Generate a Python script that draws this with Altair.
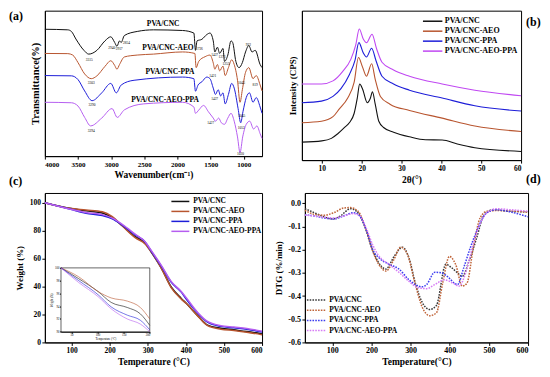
import altair as alt
import pandas as pd

FONT = "Liberation Serif"
NAMES = ["PVA/CNC", "PVA/CNC-AEO", "PVA/CNC-PPA", "PVA/CNC-AEO-PPA"]
LINE_COLORS = ["#111111", "#b8552f", "#1e1ed8", "#b65ef0"]
DOT_COLORS = ["#3a3a3a", "#c0653a", "#3d3df0", "#d77df5"]

# ---------------- (a) FTIR ----------------
ftir_cnc_wn = [4000, 3654, 3600, 3532, 3411, 3338, 3215, 3094, 3006, 2947, 2913, 2874, 2850, 2801, 2607, 2363,
               1924, 1753, 1729, 1705, 1632, 1558, 1510, 1461, 1437, 1398, 1364, 1314, 1291, 1241, 1193, 1168,
               1120, 1072, 1022, 974, 925, 876, 828, 754, 725]
ftir_cnc_t = [137.3, 136.7, 135, 127, 115, 111, 115, 125, 129.3, 123.3, 119.3, 125, 123.3, 130.7, 135, 136.7,
              136, 133.3, 115, 125, 126.7, 131.7, 133.3, 125, 113.3, 118.3, 111.7, 117, 103.3, 110, 125, 123.3,
              103.3, 96.7, 102, 113.3, 120, 113.3, 115, 100, 96.7]
ftir_aeo_wn = [4000, 3654, 3580, 3500, 3400, 3300, 3215, 3094, 3006, 2947, 2913, 2874, 2801, 2607, 2363,
               1924, 1738, 1719, 1680, 1583, 1510, 1461, 1437, 1398, 1364, 1314, 1281, 1232, 1183, 1145,
               1095, 1057, 1022, 974, 925, 861, 813, 754, 725]
ftir_aeo_t = [111.7, 111.5, 110, 102, 90, 85, 88, 98, 104, 99, 95, 100, 108, 110, 111,
              113.3, 111.7, 96.7, 103.3, 108.3, 110, 101.7, 95, 100, 93.3, 98.3, 88.3, 96.7, 105, 100,
              83.3, 60, 73.3, 91.7, 96.7, 85, 88.3, 78.3, 72]
ftir_ppa_wn = [4000, 3600, 3500, 3400, 3288, 3142, 3006, 2923, 2849, 2655, 1924, 1753, 1729, 1690, 1632, 1558,
               1510, 1461, 1427, 1387, 1349, 1314, 1281, 1232, 1183, 1145, 1086, 1047, 1013, 963, 915, 861,
               813, 754, 725]
ftir_ppa_t = [88.3, 88, 84, 72, 61.7, 70, 80, 70, 78.3, 83.3, 86.7, 85, 71.7, 78.3, 81.7, 86.7,
              85, 75, 68.3, 73.3, 66.7, 70, 58.3, 68.3, 80, 75, 53.3, 38.3, 50, 65, 70, 60,
              65, 55, 48.3]
ftir_both_wn = [4000, 3600, 3500, 3400, 3310, 3142, 2987, 2908, 2801, 2509, 1924, 1753, 1729, 1680, 1607, 1534,
                1461, 1427, 1379, 1339, 1291, 1241, 1193, 1145, 1095, 1057, 1017, 963, 911, 852, 803, 754, 725]
ftir_both_t = [60, 59.5, 56, 44, 35, 43.3, 53.3, 44, 52, 58.3, 60, 55, 48.3, 51.7, 56.7, 50,
               43.3, 40, 43.3, 38.3, 36.7, 43.3, 48.3, 40, 23.3, 6.7, 23.3, 36.7, 40, 31.7, 35, 26.7, 21.7]
ftir_label_wn = [2216, 2143, 2114, 2187]
ftir_label_t = [143.3, 117, 92, 62]
peak_text = ["3315", "2940", "2917", "2854", "1726", "1427", "1373", "1253", "922",
             "3303", "1421", "1045", "819",
             "3290", "1427", "1045",
             "3294", "1427", "1052", "1020"]
peak_wn = [3330, 2990, 2880, 2770, 1670, 1440, 1330, 1270, 930,
           3300, 1470, 1035, 828,
           3290, 1440, 1030,
           3300, 1500, 1040, 1050]
peak_t = [105, 117, 116, 123, 116, 110, 108, 101, 121,
          80, 88, 80, 78,
          57, 64, 46,
          30, 38, 33, 5]

# ---------------- (b) XRD ----------------
xrd_cnc_x = [5, 10, 12.4, 14, 15.7, 16.9, 18.1, 18.9, 19.5, 20.2, 21.4, 22.2, 22.7, 23.4, 24.3, 25.5, 28, 32, 36, 40.2, 44, 48.4, 60]
xrd_cnc_y = [26, 27.3, 30, 35, 41.7, 46.7, 56.7, 73.3, 88.3, 83.3, 68.3, 73.3, 80, 66.7, 48.3, 41.7, 36.7, 31.7, 28.5, 28.3, 24, 20, 16]
xrd_aeo_x = [5, 9.9, 12.8, 14.4, 16.5, 18.1, 19.2, 20.2, 21.2, 22.5, 23.4, 24.7, 27.1, 32, 40.2, 48.4, 60]
xrd_aeo_y = [46.7, 48.3, 53.3, 61.7, 73.3, 90, 116.7, 106.7, 96.7, 110, 93.3, 75, 66.7, 60, 51.7, 43.3, 37.3]
xrd_ppa_x = [5, 9.9, 12.8, 14.8, 16.9, 18.3, 19.3, 20.4, 21.2, 22.5, 23.6, 25.1, 28, 32, 40.2, 48.4, 60]
xrd_ppa_y = [68.3, 70, 75, 83.3, 98.3, 113.3, 132.7, 121.7, 117.3, 126.7, 113.3, 96.7, 88.3, 81.7, 73.3, 65, 59.3]
xrd_both_x = [5, 9.9, 12.8, 15.2, 17.3, 18.5, 19.4, 20.4, 21.2, 22.6, 23.7, 25.1, 28, 32, 40.2, 48.4, 60]
xrd_both_y = [88.3, 88.3, 91.7, 101.7, 115, 130, 147.3, 136.7, 132.7, 141.7, 126.7, 111.7, 103.3, 96.7, 88.3, 81.7, 75.7]

# ---------------- (c) TGA ----------------
tga_T = [30, 95, 138, 181, 207, 233, 267, 293, 310, 336, 362, 388, 401, 431, 457, 492, 526, 560, 600]
tga_cnc = [100, 96, 94.2, 92.7, 89.3, 83.6, 75.7, 71.2, 64.4, 53.1, 39.5, 31.5, 28, 19.2, 12.4, 10.2, 9, 7.8, 6.1]
tga_aeo = [100, 96, 94.8, 93.5, 90, 83.5, 75, 70.5, 64.5, 53, 39, 31, 28, 19, 12, 9.5, 8.5, 7.3, 5.5]
tga_ppa = [100, 95.5, 92.5, 90.8, 88.5, 84, 77, 72, 65, 54.5, 43, 36, 31, 21, 14.5, 11.5, 10.5, 9.5, 7.5]
tga_both = [100, 95.5, 93, 91.5, 89, 84.5, 77.5, 72, 65.5, 55, 43.5, 36.5, 32, 21.5, 15, 12, 11, 10, 8]
inset_T = [30, 64, 101, 126, 157, 182, 200]
inset_cnc = [100, 98.3, 96.3, 94.6, 93.8, 92.8, 91]
inset_aeo = [100, 98.6, 96.3, 95.3, 94.8, 93.8, 92]
inset_ppa = [100, 98, 95.8, 93.9, 92.6, 91.8, 90.3]
inset_both = [100, 97.7, 95.5, 93.6, 92, 91.2, 90]

# ---------------- (d) DTG ----------------
dtg_cnc_T = [30, 54, 79, 100, 121, 146, 162, 183, 200, 216, 237, 258, 279, 296, 312, 329, 349, 366, 390, 403, 420, 432, 449, 470, 486, 511, 553, 600]
dtg_cnc_v = [-0.023, -0.040, -0.058, -0.067, -0.054, -0.023, -0.034, -0.10, -0.189, -0.249, -0.283, -0.229, -0.189, -0.236, -0.344, -0.425, -0.458, -0.44, -0.263, -0.275, -0.30, -0.315, -0.25, -0.142, -0.054, -0.027, -0.034, -0.036]
dtg_aeo_T = [30, 54, 79, 104, 129, 146, 166, 187, 204, 224, 237, 258, 274, 291, 312, 329, 349, 366, 382, 399, 415, 432, 444, 461, 478, 495, 520, 600]
dtg_aeo_v = [-0.03, -0.047, -0.051, -0.04, -0.02, -0.018, -0.034, -0.115, -0.209, -0.276, -0.292, -0.24, -0.189, -0.216, -0.35, -0.445, -0.485, -0.472, -0.344, -0.229, -0.263, -0.357, -0.344, -0.182, -0.061, -0.034, -0.031, -0.038]
dtg_ppa_T = [30, 54, 79, 104, 129, 154, 170, 187, 204, 220, 245, 270, 296, 329, 341, 362, 379, 395, 412, 420, 436, 453, 470, 495, 520, 553, 600]
dtg_ppa_v = [-0.05, -0.054, -0.063, -0.067, -0.054, -0.040, -0.054, -0.115, -0.202, -0.236, -0.263, -0.283, -0.33, -0.36, -0.35, -0.297, -0.30, -0.317, -0.344, -0.35, -0.276, -0.189, -0.115, -0.04, -0.027, -0.036, -0.058]
dtg_both_T = [30, 54, 79, 104, 129, 154, 170, 187, 204, 220, 245, 270, 296, 320, 341, 362, 387, 408, 424, 440, 457, 474, 495, 520, 553, 600]
dtg_both_v = [-0.05, -0.054, -0.06, -0.063, -0.054, -0.044, -0.054, -0.108, -0.182, -0.229, -0.263, -0.297, -0.337, -0.364, -0.368, -0.35, -0.33, -0.344, -0.357, -0.303, -0.196, -0.101, -0.04, -0.023, -0.027, -0.034]


def line(xs, ys, color, xenc, yenc, width=1.0, dash=None):
    df = pd.DataFrame({"x": xs, "y": ys})
    kw = dict(color=color, strokeWidth=width, interpolate="monotone")
    if dash:
        kw["strokeDash"] = dash
    return alt.Chart(df).mark_line(**kw).encode(x=xenc, y=yenc)


def label(text, x, y, size=12, align="left", baseline="top"):
    return alt.Chart(pd.DataFrame({"t": [text]})).mark_text(
        font=FONT, fontWeight="bold", fontSize=size, align=align, baseline=baseline, color="black"
    ).encode(x=alt.value(x), y=alt.value(y), text="t:N")


def legend(colors, x1, x2, xt, y0, dy, size, width, dash=None):
    layers = []
    for i, (n, c) in enumerate(zip(NAMES, colors)):
        y = y0 + i * dy
        kw = dict(color=c, strokeWidth=width)
        if dash:
            kw["strokeDash"] = dash
        layers.append(alt.Chart(pd.DataFrame({"n": [n]})).mark_rule(**kw).encode(
            x=alt.value(x1), x2=alt.value(x2), y=alt.value(y)))
        layers.append(label(n, xt, y, size=size, baseline="middle"))
    return layers


def xaxis(title, values, size=7.5, pad=2):
    return alt.Axis(title=title, values=values, format="d", labelFontSize=size, titleFontSize=9.5,
                    titlePadding=pad, labelPadding=1.5)


# ---- panel a ----
WA, HA = 218, 146
xa = alt.X("x:Q", scale=alt.Scale(domain=[725, 4000], reverse=True, nice=False, zero=False),
           axis=xaxis("Wavenumber(cm⁻¹)", [4000, 3500, 3000, 2500, 2000, 1500, 1000], size=7))
ya = alt.Y("y:Q", scale=alt.Scale(domain=[3, 157], nice=False, zero=False),
           axis=alt.Axis(title="Transmittance(%)", labels=False, ticks=False, titleFontSize=10.5, titlePadding=4))
a_layers = [
    line(ftir_cnc_wn, ftir_cnc_t, LINE_COLORS[0], xa, ya, 1.0),
    line(ftir_aeo_wn, ftir_aeo_t, LINE_COLORS[1], xa, ya, 1.0),
    line(ftir_ppa_wn, ftir_ppa_t, LINE_COLORS[2], xa, ya, 1.0),
    line(ftir_both_wn, ftir_both_t, LINE_COLORS[3], xa, ya, 1.0),
]
lab_df = pd.DataFrame({"x": ftir_label_wn, "y": ftir_label_t, "t": NAMES})
a_layers.append(alt.Chart(lab_df).mark_text(font=FONT, fontWeight="bold", fontSize=7.5, color="black")
                .encode(x=xa, y=ya, text="t:N"))
pk_df = pd.DataFrame({"x": peak_wn, "y": peak_t, "t": peak_text})
a_layers.append(alt.Chart(pk_df).mark_text(font=FONT, fontSize=3.5, color="black")
                .encode(x=xa, y=ya, text="t:N"))
a_layers.append(label("(a)", -36, 0))
a_layers.append(label("(c)", -36, HA + 20))
panel_a = alt.layer(*a_layers).properties(width=WA, height=HA)

# ---- panel b ----
WB, HB = 220, 150
xb = alt.X("x:Q", scale=alt.Scale(domain=[5, 60], nice=False, zero=False),
           axis=xaxis("2θ(°)", [10, 20, 30, 40, 50, 60]))
yb = alt.Y("y:Q", scale=alt.Scale(domain=[6.7, 167], nice=False, zero=False),
           axis=alt.Axis(title="Intensity (CPS)", labels=False, ticks=False, titleFontSize=9, titlePadding=4))
b_layers = [
    line(xrd_cnc_x, xrd_cnc_y, LINE_COLORS[0], xb, yb, 1.1),
    line(xrd_aeo_x, xrd_aeo_y, LINE_COLORS[1], xb, yb, 1.1),
    line(xrd_ppa_x, xrd_ppa_y, LINE_COLORS[2], xb, yb, 1.1),
    line(xrd_both_x, xrd_both_y, "#c048f2", xb, yb, 1.1),
]
b_layers += legend([LINE_COLORS[0], LINE_COLORS[1], LINE_COLORS[2], "#c048f2"], 121.5, 141, 143.5, 10.6, 10, 8, 1.5)
b_layers.append(label("(b)", WB + 5, 6))
b_layers.append(label("(d)", WB + 5, HB + 14))
panel_b = alt.layer(*b_layers).properties(width=WB, height=HB)

# ---- panel c ----
WC, HC = 218, 150
xc = alt.X("x:Q", scale=alt.Scale(domain=[30, 600], nice=False, zero=False),
           axis=xaxis("Temperature (°C)", [100, 200, 300, 400, 500, 600]))
yc = alt.Y("y:Q", scale=alt.Scale(domain=[0, 107], nice=False, zero=False),
           axis=alt.Axis(title="Weight (%)", values=[0, 20, 40, 60, 80, 100], format="d", labelFontSize=7.5,
                         titleFontSize=9, titlePadding=5, labelPadding=1.5))
c_main = [
    line(tga_T, tga_cnc, LINE_COLORS[0], xc, yc, 1.5),
    line(tga_T, tga_aeo, LINE_COLORS[1], xc, yc, 1.5),
    line(tga_T, tga_ppa, LINE_COLORS[2], xc, yc, 1.5),
    line(tga_T, tga_both, LINE_COLORS[3], xc, yc, 1.5),
]
c_main += legend(LINE_COLORS, 127, 145, 149, 8.5, 10, 7.5, 1.5)
c_main += legend(LINE_COLORS, 67.4, 75.6, 77.3, 79.5, 4, 3, 0.6)

IX0, IX1, IY0, IY1 = 16.2, 105.3, 75.2, 139.3
inset_xd = [inset_T[0], inset_T[-1]]
inset_yd = [90, 100]
xi = alt.X("x:Q", scale=alt.Scale(domain=inset_xd, range=[IX0, IX1], nice=False, zero=False),
           axis=alt.Axis(orient="bottom", offset=IY1 - HC, values=[50, 100, 150, 200], format="d",
                         title="Temperature (°C)", labelFontSize=3, titleFontSize=3, tickSize=1.5,
                         labelPadding=0.5, titlePadding=0.5, labelFontWeight="normal", titleFontWeight="normal"))
yi = alt.Y("y:Q", scale=alt.Scale(domain=inset_yd, range=[IY1, IY0], nice=False, zero=False),
           axis=alt.Axis(orient="left", offset=-IX0, values=[90, 92, 94, 96, 98, 100], format="d",
                         title="Weight (%)", labelFontSize=3, titleFontSize=3, tickSize=1.5,
                         labelPadding=0.5, titlePadding=1, labelFontWeight="normal", titleFontWeight="normal"))
frame_df = pd.DataFrame({"x": [inset_xd[0]], "x2": [inset_xd[1]], "y": [inset_yd[0]], "y2": [inset_yd[1]]})
inset = alt.layer(
    alt.Chart(frame_df).mark_rect(fill="white", stroke="black", strokeWidth=0.6).encode(
        x=xi, x2="x2:Q", y=yi, y2="y2:Q"),
    line(inset_T, inset_cnc, LINE_COLORS[0], xi, yi, 0.6),
    line(inset_T, inset_aeo, LINE_COLORS[1], xi, yi, 0.6),
    line(inset_T, inset_ppa, LINE_COLORS[2], xi, yi, 0.6),
    line(inset_T, inset_both, LINE_COLORS[3], xi, yi, 0.6),
)
panel_c = alt.layer(alt.layer(*c_main), inset).resolve_scale(x="independent", y="independent").properties(
    width=WC, height=HC)

# ---- panel d ----
WD, HD = 224, 150
xd = alt.X("x:Q", scale=alt.Scale(domain=[30, 600], nice=False, zero=False),
           axis=xaxis("Temperature(°C)", [100, 200, 300, 400, 500, 600], size=8))
yd = alt.Y("y:Q", scale=alt.Scale(domain=[-0.6, 0.045], nice=False, zero=False),
           axis=alt.Axis(title="DTG (%/min)", values=[-0.6, -0.5, -0.4, -0.3, -0.2, -0.1, 0.0],
                         labelExpr="datum.value < -0.001 ? '-' + format(-datum.value, '.1f') : '0.0'",
                         labelFontSize=8, titleFontSize=9, titlePadding=4, labelPadding=1.5))
DASH = [1.6, 1.2]
d_layers = [
    line(dtg_cnc_T, dtg_cnc_v, DOT_COLORS[0], xd, yd, 1.5, DASH),
    line(dtg_aeo_T, dtg_aeo_v, DOT_COLORS[1], xd, yd, 1.5, DASH),
    line(dtg_ppa_T, dtg_ppa_v, DOT_COLORS[2], xd, yd, 1.5, DASH),
    line(dtg_both_T, dtg_both_v, DOT_COLORS[3], xd, yd, 1.5, DASH),
]
d_layers += legend(DOT_COLORS, 2, 21.5, 24.5, 107.5, 10.2, 7.5, 1.5, DASH)
panel_d = alt.layer(*d_layers).properties(width=WD, height=HD)

top = alt.hconcat(panel_a, panel_b, spacing=23)
bottom = alt.hconcat(panel_c, panel_d, spacing=8)
chart = alt.vconcat(top, bottom, spacing=4).properties(padding=0, background="white").configure_view(
    stroke="black", strokeWidth=1
).configure_axis(
    grid=False, domainColor="black", tickColor="black", labelColor="black", titleColor="black",
    labelFont=FONT, titleFont=FONT, labelFontWeight="bold", titleFontWeight="bold", tickSize=3
)

chart.save("out.html", embed_options={"renderer": "svg", "actions": False})
